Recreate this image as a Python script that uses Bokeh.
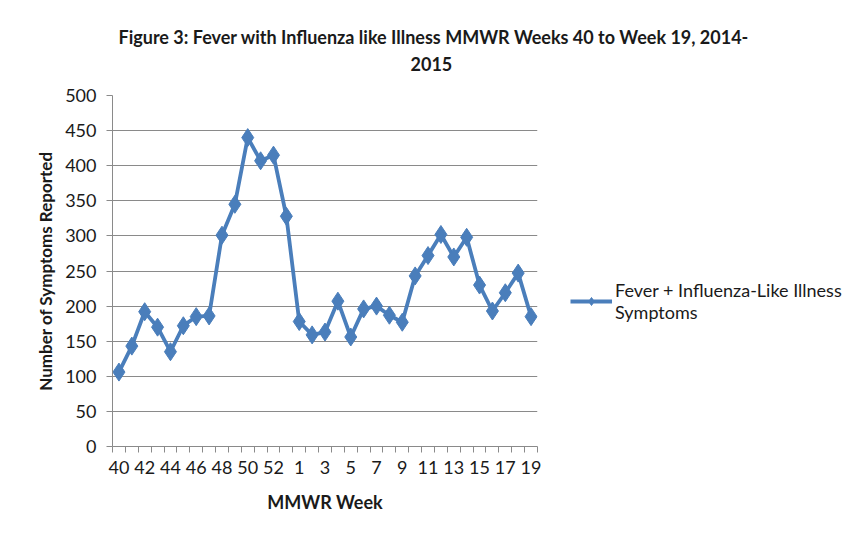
from bokeh.plotting import figure
from bokeh.models import FixedTicker, Legend, LegendItem, Range1d, ColumnDataSource, Title
from bokeh.embed import file_html
from bokeh.resources import INLINE

weeks = [40, 41, 42, 43, 44, 45, 46, 47, 48, 49, 50, 51, 52, 53,
         1, 2, 3, 4, 5, 6, 7, 8, 9, 10, 11, 12, 13, 14, 15, 16, 17, 18, 19]
symptoms = [106, 143, 192, 170, 135, 172, 185, 186, 301, 345, 440, 407, 415, 328,
            178, 159, 163, 207, 156, 196, 200, 187, 177, 243, 272, 302, 270, 298,
            230, 193, 219, 247, 185]
y_ticks = [0, 50, 100, 150, 200, 250, 300, 350, 400, 450, 500]
series_name = "Fever + Influenza-Like Illness\nSymptoms"
title_line1 = "Figure 3: Fever with Influenza like Illness MMWR Weeks 40 to Week 19, 2014-"
title_line2 = "2015"

idx = list(range(len(weeks)))
src = ColumnDataSource(dict(x=idx, y=symptoms, week=[str(w) for w in weeks]))

FONT = "Lato"
BLUE = "#4A7EBB"
GRID = "#8A8A8A"
TXT = "#1a1a1a"

p = figure(frame_width=425, frame_height=351, output_backend="svg", toolbar_location=None,
           x_range=Range1d(-0.5, len(weeks) - 0.5), y_range=Range1d(0, 500),
           min_border_left=112, min_border_right=305, min_border_top=95,
           min_border_bottom=81)
p.outline_line_color = None
p.background_fill_color = "white"
p.border_fill_color = "white"
p.title.visible = False

spacer = Title(text=" ", text_font=FONT, text_font_size="12px", standoff=0)
t2 = Title(text=title_line2, align="left", offset=298, text_font=FONT,
           text_font_size="18px", text_font_style="bold", standoff=15,
           text_color=TXT)
t1 = Title(text=title_line1, align="left", offset=6, text_font=FONT,
           text_font_size="18px", text_font_style="bold", standoff=0,
           text_color=TXT)
p.add_layout(spacer, "above")
p.add_layout(t2, "above")
p.add_layout(t1, "above")

r_line = p.line("x", "y", source=src, line_color=BLUE, line_width=3.8)
r_pts = p.scatter("x", "y", source=src, marker="diamond", size=18,
                  fill_color=BLUE, line_color=BLUE)

# x axis
xa = p.xaxis[0]
even = [i for i in idx if i % 2 == 0]
xa.ticker = FixedTicker(ticks=even, minor_ticks=[i - 0.5 for i in range(len(weeks) + 1)])
xa.major_label_overrides = {i: str(weeks[i]) for i in even}
xa.major_tick_line_color = None
xa.major_tick_out = 6
xa.minor_tick_line_color = GRID
xa.minor_tick_out = 6
xa.minor_tick_in = 0
xa.axis_line_color = GRID
xa.major_label_text_font = FONT
xa.major_label_text_font_size = "18px"
xa.major_label_text_color = TXT
xa.major_label_standoff = 8
xa.axis_label = "MMWR Week"
xa.axis_label_text_font = FONT
xa.axis_label_text_font_size = "18px"
xa.axis_label_text_font_style = "bold"
xa.axis_label_text_color = TXT
xa.axis_label_standoff = 14

ya = p.yaxis[0]
ya.ticker = FixedTicker(ticks=y_ticks)
ya.minor_tick_line_color = None
ya.major_tick_line_color = GRID
ya.major_tick_out = 6
ya.major_tick_in = 0
ya.axis_line_color = GRID
ya.major_label_text_font = FONT
ya.major_label_text_font_size = "18px"
ya.major_label_text_color = TXT
ya.major_label_standoff = 10
ya.axis_label = "Number of Symptoms Reported"
ya.axis_label_text_font = FONT
ya.axis_label_text_font_size = "17px"
ya.axis_label_text_font_style = "bold"
ya.axis_label_text_color = TXT
ya.axis_label_standoff = 6

p.xgrid.grid_line_color = None
p.ygrid.grid_line_color = GRID
p.ygrid.grid_line_width = 1

legend = Legend(items=[LegendItem(label=series_name, renderers=[r_line, r_pts])],
                location=(33, 123), border_line_color=None,
                background_fill_alpha=0, label_text_font=FONT,
                label_text_font_size="18px", label_text_line_height=1.55,
                label_text_color=TXT, glyph_width=42,
                label_standoff=3, padding=0, margin=0)
p.add_layout(legend, "right")

open("out.html", "w").write(file_html(p, INLINE))
